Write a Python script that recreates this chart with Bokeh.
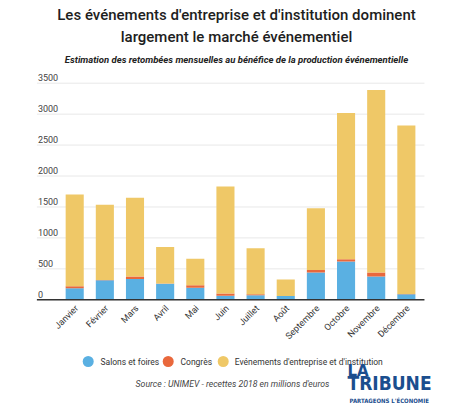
from math import pi

from bokeh.core.properties import value
from bokeh.embed import file_html
from bokeh.models import ColumnDataSource, Label, Range1d
from bokeh.plotting import figure
from bokeh.resources import INLINE

# Monthly spending (millions of euros, 2018) by event type
months = ["Janvier", "Février", "Mars", "Avril", "Mai", "Juin", "Juillet",
          "Août", "Septembre", "Octobre", "Novembre", "Décembre"]
salons = [185, 315, 335, 260, 195, 65, 75, 60, 440, 620, 375, 90]
congres = [35, 5, 40, 5, 40, 35, 15, 0, 40, 35, 65, 5]
evenements = [1480, 1215, 1275, 590, 430, 1730, 745, 270, 1000, 2365, 2950, 2720]

series = ["salons", "congres", "evenements"]
series_labels = ["Salons et foires", "Congrès",
                 "Evénements d'entreprise et d'institution"]
colors = ["#5ab0e2", "#e9683c", "#efc867"]
y_ticks = [0, 500, 1000, 1500, 2000, 2500, 3000, 3500]

FONT = "Roboto"
W, H = 460, 420
# the figure's frame spans the whole canvas; ranges place the bar area
X_START, X_END = -2.461, 12.796
Y_START, Y_END = -1950, 4836
X_LEFT, X_RIGHT = -1.254, 11.6      # horizontal extent of grid lines


def px_x(cx):
    """Canvas pixel column -> data x."""
    return X_START + cx / W * (X_END - X_START)


def px_y(cy):
    """Canvas pixel row (from top) -> data y."""
    return Y_END - cy / H * (Y_END - Y_START)


src = ColumnDataSource(dict(x=list(range(len(months))), salons=salons,
                            congres=congres, evenements=evenements))

p = figure(width=W, height=H, output_backend="svg", toolbar_location=None,
           x_range=Range1d(X_START, X_END), y_range=Range1d(Y_START, Y_END),
           x_axis_location=None, y_axis_location=None, min_border=0)
p.outline_line_color = None
p.background_fill_color = "white"
p.border_fill_color = "white"
p.grid.visible = False

# horizontal grid lines
p.segment(x0=[X_LEFT] * len(y_ticks), x1=[X_RIGHT] * len(y_ticks),
          y0=y_ticks, y1=y_ticks, line_color="#e8e8e8", line_width=1)

# stacked bars
p.vbar_stack(series, x="x", width=0.6, source=src, color=colors,
             line_color=None)

# baseline
p.segment(x0=[X_LEFT], x1=[X_RIGHT], y0=[0], y1=[0],
          line_color="#333333", line_width=1.6)

# y tick labels sitting on top of the grid lines
p.text(x=[X_LEFT] * len(y_ticks), y=y_ticks, text=[str(t) for t in y_ticks],
       x_offset=1, y_offset=-2, text_baseline="bottom", text_align="left",
       text_font=value(FONT), text_font_size="9px", text_color="#444444")

# slanted month labels
p.text(x=list(range(len(months))), y=[0] * len(months), text=months,
       angle=pi / 4, x_offset=2, y_offset=7, text_align="right",
       text_baseline="middle", text_font=value(FONT), text_font_size="9px",
       text_color="#333333")


def canvas_label(cx, cy, text, **kw):
    p.add_layout(Label(x=cx, y=H - cy, x_units="screen", y_units="screen",
                       text=text, **kw))


# titles
canvas_label(236, 23, "Les événements d'entreprise et d'institution dominent",
             text_align="center", text_font="Roboto Medium",
             text_font_size="15px", text_color="#1e1e1e")
canvas_label(236, 45, "largement le marché événementiel",
             text_align="center", text_font="Roboto Medium",
             text_font_size="15px", text_color="#1e1e1e")
canvas_label(236, 64, "Estimation des retombées mensuelles au bénéfice de la "
             "production événementielle", text_align="center",
             text_font=FONT, text_font_size="9.5px", text_font_style="bold italic",
             text_color="#222222")

# legend: round markers followed by their labels
key_x = [87.7, 167.7, 222.7]
key_text_x = [100, 180, 234.3]
KEY_Y = 361
p.scatter(x=[px_x(v) for v in key_x], y=[px_y(KEY_Y)] * len(key_x),
          marker="circle", size=11, fill_color=colors, line_color=None)
for tx, lab in zip(key_text_x, series_labels):
    canvas_label(tx, KEY_Y, lab, text_baseline="middle", text_font=FONT,
                 text_font_size="8.5px", text_color="#333333")

# source line
canvas_label(232, 388, "Source : UNIMEV - recettes 2018 en millions d'euros",
             text_align="center", text_font=FONT, text_font_size="8.7px",
             text_font_style="italic", text_color="#444444")

# logo
LOGO = "#1b4e8e"
canvas_label(347, 379, "LA", text_font="DejaVu Sans",
             text_font_size="15px", text_font_style="bold", text_color=LOGO)
canvas_label(347, 393, "TRIBUNE", text_font="DejaVu Sans Condensed",
             text_font_size="19px", text_font_style="bold", text_color=LOGO)
canvas_label(349, 403, "PARTAGEONS L'ÉCONOMIE", text_font="DejaVu Sans Condensed",
             text_font_size="6px", text_font_style="bold", text_color=LOGO)

open("out.html", "w").write(file_html(p, INLINE))
